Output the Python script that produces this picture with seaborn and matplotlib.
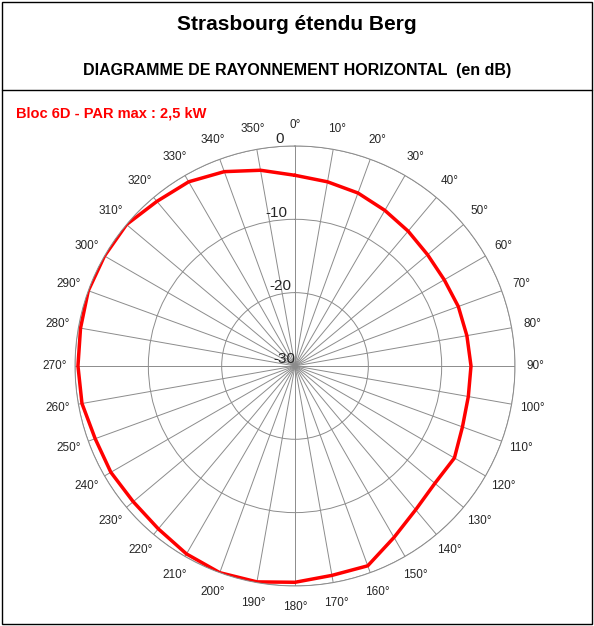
import numpy as np
import matplotlib
matplotlib.use("Agg")
import matplotlib.pyplot as plt
import seaborn as sns
import pandas as pd

sns.set_theme(style="white")
plt.rcParams['font.family'] = ['Liberation Sans', 'DejaVu Sans']

angles_deg = [0, 10, 20, 30, 40, 50, 60, 70, 80, 90, 100, 110, 120, 130, 140, 150, 160, 170,
              180, 190, 200, 210, 220, 230, 240, 250, 260, 270, 280, 290, 300, 310, 320, 330, 340, 350]
attenuation_db = [-4.0, -4.5, -4.9, -5.5, -6.0, -6.4, -6.5, -6.3, -6.2, -6.0, -6.0, -5.7, -4.9, -5.1,
                  -4.4, -3.0, -1.0, -1.0, -0.5, -0.1, 0.0, -0.4, -1.0, -1.2, -1.0, -1.0, -0.5, -0.4,
                  -0.3, 0.0, 0.0, 0.0, -0.7, -1.0, -1.8, -2.9]
angle_labels = [f"{a}°" for a in angles_deg]
r_ticks = [-30, -20, -10, 0]

df = pd.DataFrame({"theta": np.deg2rad(angles_deg + [360]),
                   "db": attenuation_db + [attenuation_db[0]]})

fig = plt.figure(figsize=(5.94, 6.26), dpi=100)
ax = fig.add_axes([0.1263, 0.0639, 0.7407, 0.703], projection="polar")
ax.set_theta_zero_location("N")
ax.set_theta_direction(-1)
sns.lineplot(data=df, x="theta", y="db", ax=ax, color="#ff0000", linewidth=2.5,
             sort=False, estimator=None)
ax.set_ylim(-30, 0)
ax.set_thetagrids(angles_deg, angle_labels, fontsize=8.5)
ax.set_rgrids(r_ticks, [str(t) for t in r_ticks], angle=357, fontsize=11, ha="right")
for t in ax.yaxis.get_ticklabels():
    t.set_bbox(None)
ax.grid(True, color="#8c8c8c", linewidth=0.7)
ax.spines["polar"].set_color("#8c8c8c")
ax.spines["polar"].set_linewidth(0.7)
ax.set_xlabel("")
ax.set_ylabel("")
ax.tick_params(axis="x", pad=2)

fig.patches.append(plt.Rectangle((0.003, 0.003), 0.994, 0.994, transform=fig.transFigure,
                                 fill=False, edgecolor="black", linewidth=1))
fig.lines.append(plt.Line2D([0.003, 0.997], [1 - 90/626, 1 - 90/626], transform=fig.transFigure,
                            color="black", linewidth=1))
fig.text(0.5, 1 - 24/626, "Strasbourg étendu Berg", ha="center", va="center",
         fontsize=15, fontweight="bold", color="black")
fig.text(0.5, 1 - 70/626, "DIAGRAMME DE RAYONNEMENT HORIZONTAL  (en dB)", ha="center",
         va="center", fontsize=11.5, fontweight="bold", color="black")
fig.text(16/594, 1 - 114/626, "Bloc 6D - PAR max : 2,5 kW", ha="left", va="center",
         fontsize=10.5, fontweight="bold", color="#ff0000")

fig.savefig("out.png", dpi=100)
